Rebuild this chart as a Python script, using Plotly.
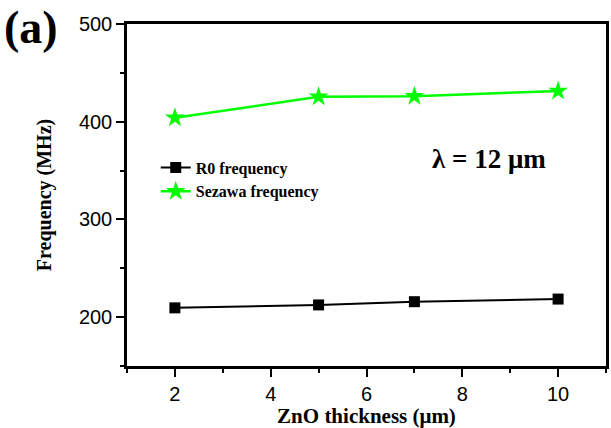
import plotly.graph_objects as go

thickness = [2, 5, 7, 10]
r0_freq = [209.5, 212.5, 215.8, 218.5]
sezawa_freq = [404, 425.5, 426, 431.5]

serif = "Liberation Serif, Times New Roman, serif"
sans = "Liberation Sans, Arial, sans-serif"

fig = go.Figure()
fig.add_trace(go.Scatter(
    x=thickness, y=r0_freq, mode="lines+markers", name="R0 frequency",
    line=dict(color="black", width=2),
    marker=dict(symbol="square", size=11, color="black"),
))
fig.add_trace(go.Scatter(
    x=thickness, y=sezawa_freq, mode="lines+markers", name="Sezawa frequency",
    line=dict(color="#00ff00", width=2.5),
    marker=dict(symbol="star", size=15, color="#00ff00"),
))

axis_common = dict(
    showline=True, linecolor="black", linewidth=2.5, mirror=True,
    ticks="outside", ticklen=8, tickwidth=2, tickcolor="black",
    showgrid=False, zeroline=False,
    tickfont=dict(family=sans, size=20, color="black"),
)

fig.update_xaxes(
    range=[1, 11], tickvals=[2, 4, 6, 8, 10],
    minor=dict(tickvals=[1, 3, 5, 7, 9, 11], ticks="outside", ticklen=4, tickwidth=2, tickcolor="black"),
    title=dict(text="<b>ZnO thickness (μm)</b>", font=dict(family=serif, size=21, color="black"), standoff=7),
    **axis_common,
)
fig.update_yaxes(
    range=[150, 500], tickvals=[200, 300, 400, 500],
    minor=dict(tickvals=[150, 250, 350, 450], ticks="outside", ticklen=4, tickwidth=2, tickcolor="black"),
    title=dict(text="<b>Frequency (MHz)</b>", font=dict(family=serif, size=20, color="black"), standoff=22),
    **axis_common,
)

fig.update_layout(
    width=611, height=428,
    margin=dict(l=127, r=2, t=24, b=57),
    paper_bgcolor="white", plot_bgcolor="white",
    showlegend=True,
    legend=dict(
        x=0.06, y=0.63, xanchor="left", yanchor="top",
        bgcolor="rgba(0,0,0,0)",
        font=dict(family=serif, size=16, color="black", weight="bold"),
        itemwidth=30, tracegroupgap=0,
    ),
    annotations=[
        dict(text="<b>(a)</b>", xref="paper", yref="paper", x=-0.262, y=1.07, xanchor="left", yanchor="top",
             showarrow=False, font=dict(family=serif, size=46, color="black")),
        dict(text="<b>λ = 12 μm</b>", xref="x", yref="y", x=8.55, y=362, xanchor="center", yanchor="middle",
             showarrow=False, font=dict(family=serif, size=27, color="black")),
    ],
)

fig.write_html("out.html")
